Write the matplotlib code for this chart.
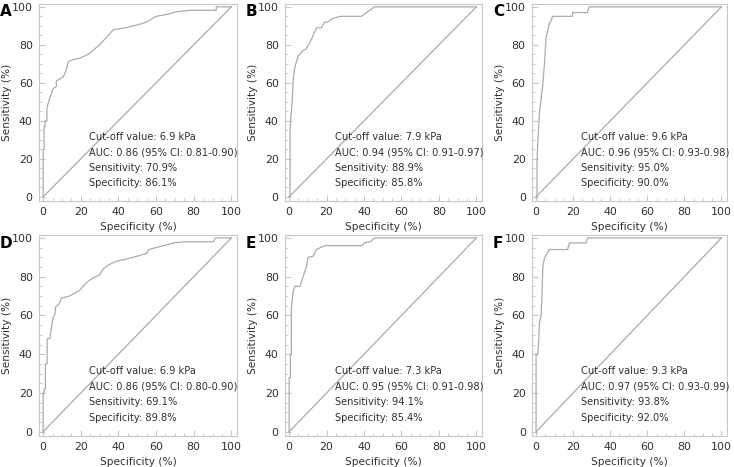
import matplotlib.pyplot as plt
from matplotlib.ticker import MultipleLocator

# ROC curves: x = 100 - specificity (%), y = sensitivity (%)
a_x = [0, 0, 0.5, 0.5, 1, 1, 2, 2, 3.5, 3.5, 5.3, 7, 7, 10.6, 12.4, 13.3, 15, 19.5, 24, 30, 35.5, 37.3, 44, 50, 55, 60, 65.7, 71, 78, 92, 92, 100]
a_y = [0, 25, 25, 37, 37, 40, 40, 47, 52, 52, 57, 58, 61, 63, 67, 71, 72, 73, 75, 80, 86, 88, 89, 90.5, 92, 95, 96, 97.4, 98.2, 98.2, 100, 100]

b_x = [0, 0.5, 0.5, 1, 1.6, 2.2, 3, 4.8, 7.4, 9.2, 12, 13.7, 14.7, 17.2, 19, 20.7, 22.5, 27, 38.5, 43.8, 45.6, 100]
b_y = [0, 0, 35, 42, 50, 62, 68, 74, 77, 78, 83, 87, 89, 89, 92, 92, 93.5, 95, 95, 98.8, 100, 100]

c_x = [0, 0.5, 0.5, 0.9, 1.8, 3.6, 4.5, 5.4, 6.2, 7.1, 8, 8.9, 19.6, 19.6, 27.7, 28.6, 100]
c_y = [0, 0, 19, 28, 44, 59, 70, 84, 87, 91, 92.7, 95, 95, 97, 97, 100, 100]

d_x = [0, 0, 0.5, 0.5, 1.2, 1.2, 2.1, 2.1, 3.6, 4.4, 5.3, 6.2, 6.7, 8.5, 9.8, 14, 19.5, 23, 26, 30, 32, 34.6, 39, 44, 51.5, 55, 56, 64, 69.3, 74.6, 90.5, 91.5, 100]
d_y = [0, 20, 20, 22, 22, 35, 35, 48, 48, 54, 59, 60.5, 64.5, 66, 69, 70, 73, 77, 79, 81, 84, 86, 88, 89, 91, 92, 94, 96, 97.4, 98, 98, 100, 100]

e_x = [0, 0, 0.7, 0.7, 1.2, 1.2, 2.1, 3, 5.7, 6.5, 7.4, 9.2, 10.1, 12.8, 14.5, 19, 38.5, 40.2, 43.8, 45.6, 100]
e_y = [0, 28, 28, 40, 40, 64, 72, 75, 75, 77, 80, 85, 90, 90.5, 94, 96, 96, 97.4, 98.2, 100, 100]

f_x = [0, 0, 0.9, 1.4, 1.8, 2.7, 3.2, 3.6, 4.5, 5.4, 7.2, 17, 18, 27, 27.8, 100]
f_y = [0, 40, 40, 46, 56, 60, 70, 85, 89.5, 91, 94, 94, 97.4, 97.4, 100, 100]

curves_x = [a_x, b_x, c_x, d_x, e_x, f_x]
curves_y = [a_y, b_y, c_y, d_y, e_y, f_y]
panel_letters = ["A", "B", "C", "D", "E", "F"]
cutoffs = ["6.9", "7.9", "9.6", "6.9", "7.3", "9.3"]
aucs = ["0.86 (95% CI: 0.81-0.90)", "0.94 (95% CI: 0.91-0.97)", "0.96 (95% CI: 0.93-0.98)",
        "0.86 (95% CI: 0.80-0.90)", "0.95 (95% CI: 0.91-0.98)", "0.97 (95% CI: 0.93-0.99)"]
sens = ["70.9", "88.9", "95.0", "69.1", "94.1", "93.8"]
spec = ["86.1", "85.8", "90.0", "89.8", "85.4", "92.0"]

W, H = 734, 467
fig = plt.figure(figsize=(W / 100, H / 100), dpi=100)
plt.rcParams["font.family"] = "DejaVu Sans"

# axes boxes in pixels: (left, right, top, bottom)
cols = [(39, 237), (285, 482), (532, 727)]
rows = [(4, 201), (235, 436)]
line_col = "#ababab"
spine_col = "#c8c8c8"
text_col = "#303030"

for i in range(6):
    r, c = divmod(i, 3)
    l, rr = cols[c]
    t, b = rows[r]
    ax = fig.add_axes([l / W, 1 - b / H, (rr - l) / W, (b - t) / H])
    ax.plot(curves_x[i], curves_y[i], color=line_col, lw=0.9)
    ax.plot([0, 100], [0, 100], color=line_col, lw=0.9)
    ax.set_xlim(-2.2, 103)
    ax.set_ylim(-2.2, 101.5)
    ax.xaxis.set_major_locator(MultipleLocator(20))
    ax.yaxis.set_major_locator(MultipleLocator(20))
    ax.xaxis.set_minor_locator(MultipleLocator(5))
    ax.yaxis.set_minor_locator(MultipleLocator(5))
    ax.tick_params(which="both", direction="in", color=spine_col, labelcolor=text_col,
                   labelsize=7.9, top=False, right=False)
    ax.tick_params(which="major", length=4)
    ax.tick_params(axis="y", which="major", pad=4.5)
    ax.tick_params(axis="x", which="major", pad=4)
    ax.tick_params(which="minor", length=2.5)
    for s in ax.spines.values():
        s.set_color(spine_col)
        s.set_linewidth(0.8)
    ax.set_xlabel("Specificity (%)", fontsize=7.6, color=text_col)
    ax.set_ylabel("Sensitivity (%)", fontsize=7.6, color=text_col)
    ax.xaxis.set_label_coords(0.5, -26 / (b - t), transform=ax.transAxes)
    ax.yaxis.set_label_coords(-32 / (rr - l), 0.5, transform=ax.transAxes)
    ax.xaxis.label.set_va("center")
    ax.yaxis.label.set_va("center")
    lines = ["Cut-off value: " + cutoffs[i] + " kPa",
             "AUC: " + aucs[i],
             "Sensitivity: " + sens[i] + "%",
             "Specificity: " + spec[i] + "%"]
    for k, s in enumerate(lines):
        ax.text(24.5, 31.5 - 8.1 * k, s, fontsize=7.1, color=text_col, va="center", ha="left")
    fig.text((l - 39) / W, 1 - (t + 8) / H, panel_letters[i], fontsize=11, fontweight="bold",
             va="center", ha="left", color="black")

fig.savefig("out.png", dpi=100)
